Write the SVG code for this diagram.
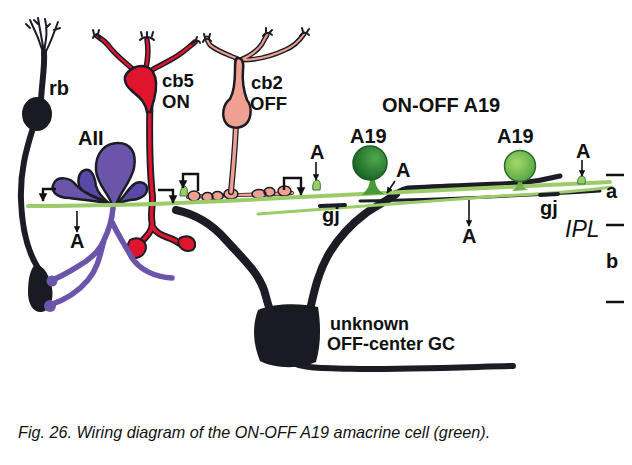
<svg xmlns="http://www.w3.org/2000/svg" width="632" height="465" viewBox="0 0 632 465">
<defs>
<marker id="ah" viewBox="0 0 10 10" refX="9" refY="5" markerWidth="4" markerHeight="4" orient="auto"><path d="M0,0 L10,5 L0,10 Z" fill="#111"/></marker>
<marker id="bh" viewBox="0 0 10 10" refX="9" refY="5" markerWidth="3.6" markerHeight="4.2" orient="auto"><path d="M0,0 L10,5 L0,10 Z" fill="#111"/></marker>
<radialGradient id="g1" cx="0.65" cy="0.35" r="0.8"><stop offset="0" stop-color="#4fa84a"/><stop offset="1" stop-color="#0f5a22"/></radialGradient>
<radialGradient id="g2" cx="0.4" cy="0.4" r="0.8"><stop offset="0" stop-color="#a8d86a"/><stop offset="1" stop-color="#3f9a3a"/></radialGradient>
<style>
.lbl{font-family:"Liberation Sans",Arial,sans-serif;font-weight:bold;font-size:20px;fill:#111}
.dk{fill:none;stroke:#1c1c26;stroke-linecap:round;stroke-linejoin:round}
.pu{fill:none;stroke:#6a55aa;stroke-linecap:round;stroke-linejoin:round}
.ar{fill:none;stroke:#111;stroke-width:1.6}
.br{fill:none;stroke:#111;stroke-width:2.4;stroke-linejoin:miter}
.gr{fill:none;stroke:#9ccc6a;stroke-linecap:round}
.tick{stroke:#111;stroke-width:2.5}
</style>
</defs>
<rect width="632" height="465" fill="#fff"/>

<g id="gc">
<path class="dk" stroke-width="8" d="M176,210 C195,214 212,224 226,240 C242,258 258,272 264,290 C267,300 268,305 270,310"/>
<path class="dk" stroke-width="8" d="M310,310 C314,292 318,272 330,252 C340,236 354,222 366,213 C378,205 388,200 396,194"/>
<path class="dk" stroke-width="5" d="M388,200 C392,196 398,190 408,188 C440,186 480,185 520,183 C540,181 552,178 560,176"/>
<path class="dk" stroke-width="3" d="M360,201 C420,200 500,197 600,191"/>
<path class="dk" stroke-width="6" d="M292,362 C300,368 320,368 360,369 C420,369 470,367 513,366"/>
<path fill="#1a1a22" d="M258,310 C275,303 300,303 318,307 C321,325 321,345 316,362 C300,369 275,369 260,361 C253,345 252,325 258,310 Z"/>
</g>

<g id="rb">
<path class="dk" stroke-width="2" d="M44,55 C40,42 35,30 30,20 M30,28 L26,24 M44,52 C42,40 40,30 38,18 M38,24 L34,20 M44,52 C46,40 48,30 45,19 M46,28 L50,24 M44,55 C50,45 53,35 58,22 M54,30 L60,28"/>
<path class="dk" stroke-width="6" d="M41,100 C42,82 45,66 44,52"/>
<ellipse cx="37" cy="114" rx="15" ry="17" fill="#1a1a22"/>
<path class="dk" stroke-width="6" d="M33,128 C26,150 20,172 21,200 C22,230 28,252 38,268"/>
<path fill="#1a1a22" d="M36,264 C44,266 50,276 52,288 C54,300 50,310 42,312 C33,313 28,304 28,292 C28,280 30,268 36,264 Z"/>
</g>

<g id="cb5">
<path class="dk" stroke-width="7" d="M150,100 C149,140 150,170 152,192 C154,202 150,212 152,222 C153,228 150,233 145,238 C140,243 134,248 134,255 M152,226 C158,236 166,236 174,240 C180,244 186,246 192,246"/>
<path fill="none" stroke="#e0142c" stroke-width="3.5" stroke-linecap="round" d="M150,100 C149,140 150,170 152,192 C154,202 150,212 152,222 C153,228 150,233 145,238 C140,243 134,248 134,255 M152,226 C158,236 166,236 174,240 C180,244 186,246 192,246"/>
<path fill="#e0142c" stroke="#1c1c26" stroke-width="2" d="M130,240 C138,236 146,240 146,248 C145,256 136,260 131,257 C127,253 126,245 130,240 Z M180,238 C188,234 196,238 195,246 C194,252 186,252 182,249 C178,246 177,241 180,238 Z"/>
<path class="dk" stroke-width="5.5" d="M136,72 C125,62 115,55 108,45 C104,40 100,38 97,36 M146,68 C148,58 149,50 147,40 M152,70 C162,64 172,60 180,54 C186,50 190,46 195,42"/>
<path fill="none" stroke="#e0142c" stroke-width="2.5" stroke-linecap="round" d="M136,72 C125,62 115,55 108,45 C104,40 100,38 97,36 M146,68 C148,58 149,50 147,40 M152,70 C162,64 172,60 180,54 C186,50 190,46 195,42"/>
<path class="dk" stroke-width="2" d="M93,38 C94,34 98,34 100,38 M94,34 L93,30 M98,34 L99,30 M140,40 C144,36 150,36 154,40 M142,36 L141,32 M147,36 L147,32 M152,36 L153,32 M192,44 C195,40 199,40 200,43 M196,40 L197,37"/>
<path fill="#e0142c" stroke="#1c1c26" stroke-width="2.5" d="M128,72 C136,64 148,64 153,72 C158,80 156,92 154,100 C152,106 151,108 151,112 L147,112 C145,100 137,96 131,90 C124,84 123,77 128,72 Z"/>
</g>

<g id="cb2">
<path fill="none" stroke="#1c1c26" stroke-width="4" stroke-linecap="round" d="M188,197 C220,195 260,195 292,193"/>
<path fill="none" stroke="#f0a090" stroke-width="2.4" stroke-linecap="round" d="M188,197 C220,195 260,195 292,193"/>
<path fill="#f0a090" stroke="#1c1c26" stroke-width="1.5" d="M188,196 a6,5 0 1,0 12,0 a6,5 0 1,0 -12,0 Z M202,197 a5.5,4.5 0 1,0 11,0 a5.5,4.5 0 1,0 -11,0 Z M212,196 a5.5,4.5 0 1,0 11,0 a5.5,4.5 0 1,0 -11,0 Z M224,194 a7,5 0 1,0 14,0 a7,5 0 1,0 -14,0 Z M252,194 a7,4.5 0 1,0 14,0 a7,4.5 0 1,0 -14,0 Z M264,192 a5.5,4.5 0 1,0 11,0 a5.5,4.5 0 1,0 -11,0 Z M278,191 a6.5,5 0 1,0 13,0 a6.5,5 0 1,0 -13,0 Z"/>
<path class="dk" stroke-width="6" d="M236,124 C235,150 233,170 231,192"/>
<path fill="none" stroke="#f0a090" stroke-width="3.5" stroke-linecap="round" d="M236,124 C235,150 233,170 231,192"/>
<path class="dk" stroke-width="5" d="M240,60 C230,55 218,52 210,45 C208,42 207,40 207,38 M240,60 C250,56 258,50 262,44 C264,40 265,38 267,35 M242,60 C258,60 272,56 285,50 C295,46 300,40 304,34"/>
<path fill="none" stroke="#f0a090" stroke-width="2.2" stroke-linecap="round" d="M240,60 C230,55 218,52 210,45 C208,42 207,40 207,38 M240,60 C250,56 258,50 262,44 C264,40 265,38 267,35 M242,60 C258,60 272,56 285,50 C295,46 300,40 304,34"/>
<path class="dk" stroke-width="2" d="M203,42 C204,38 209,38 211,41 M205,38 L204,34 M209,38 L210,34 M263,36 C265,32 270,32 272,35 M266,32 L266,28 M270,32 L272,30 M300,36 C302,32 307,32 309,35 M303,32 L302,28 M307,32 L309,29"/>
<path fill="#f0a090" stroke="#1c1c26" stroke-width="2.5" d="M238,58 C242,58 244,62 243,70 C242,82 244,92 247,100 C252,106 252,118 246,124 C240,129 230,129 226,123 C221,116 223,104 230,99 C234,92 235,80 235,70 C235,62 235,58 238,58 Z"/>
</g>

<g id="aii">
<path class="pu" stroke-width="5.5" d="M113,208 C112,220 110,228 104,240 C100,250 94,255 85,262 C75,268 65,275 52,280 M104,240 C100,255 98,268 88,280 C78,292 65,300 50,305 M112,222 C118,235 125,245 132,258 C140,270 155,277 172,278"/>
<circle cx="52" cy="281" r="5.5" fill="#6a55aa"/>
<circle cx="50" cy="306" r="6" fill="#6a55aa"/>
<path fill="#6a55aa" stroke="#1c1c26" stroke-width="2.5" d="M112,205 C110,195 97,185 96,170 C95,152 106,143 118,143 C130,143 137,152 134,168 C131,182 120,192 116,205 Z"/>
<path fill="#6a55aa" stroke="#1c1c26" stroke-width="2.5" d="M110,204 C95,200 80,200 70,198 C55,198 50,190 54,183 C58,176 70,177 76,185 C82,192 96,198 110,204 Z"/>
<path fill="#5a48a8" stroke="#1c1c26" stroke-width="2.5" d="M110,204 C100,198 88,195 82,190 C76,184 78,172 85,170 C92,168 95,178 96,186 C98,194 105,200 110,204 Z"/>
<path fill="#5a48a8" stroke="#1c1c26" stroke-width="2.5" d="M116,204 C122,200 126,192 132,186 C138,180 146,182 147,188 C148,196 138,200 130,200 C124,201 120,203 116,204 Z"/>
</g>

<g id="a19">
<path class="gr" stroke-width="4" d="M28,206 C100,206 200,203 300,197 C400,192 500,188 610,182"/>
<path class="gr" stroke-width="3" d="M258,214 C330,208 420,202 500,196 C560,193 590,190 612,187"/>
<path class="dk" stroke-width="4" d="M320,206 L345,205 M540,195 L558,194"/>
<path fill="#9ccc6a" stroke="#2c7a2e" stroke-width="1" d="M180,196 C180,190 182,186 184,186 C187,186 188,190 187,196 Z M313,190 C312,184 314,180 317,180 C320,180 321,184 320,190 Z M578,184 C577,179 579,176 582,176 C585,176 586,179 585,184 Z"/>
<path fill="#4a9a3a" d="M370,178 L375,178 C375,186 378,190 384,194 L362,195 C367,190 370,186 370,178 Z"/>
<circle cx="370" cy="163" r="17" fill="url(#g1)" stroke="#1f5a22" stroke-width="1.5"/>
<path fill="#6fb04a" d="M518,180 L522,180 C522,186 524,188 528,190 L512,191 C516,188 518,186 518,180 Z"/>
<circle cx="520" cy="166" r="15.5" fill="url(#g2)" stroke="#2a6a26" stroke-width="1.5"/>
</g>

<g id="connectors">
<path class="br" marker-end="url(#bh)" d="M56,189 H43 V201"/>
<path class="br" marker-end="url(#bh)" d="M158,190 H173 V203"/>
<path class="br" marker-end="url(#bh)" d="M198,191 V174 H183 V188"/>
<path class="br" marker-end="url(#bh)" d="M284,190 V178 H301 V195"/>
<path class="ar" marker-end="url(#ah)" d="M316,162 V180"/>
<path class="ar" marker-end="url(#ah)" d="M395,181 L387,193"/>
<path class="ar" marker-end="url(#ah)" d="M582,160 V176"/>
<path class="ar" marker-end="url(#ah)" d="M469,200 V226"/>
<path class="ar" marker-end="url(#ah)" d="M77,211 V232"/>
</g>

<g id="labels">
<text class="lbl" x="49" y="95">rb</text>
<text class="lbl" x="162" y="87" style="font-size:18.5px">cb5</text>
<text class="lbl" x="162" y="108" style="font-size:18.5px">ON</text>
<text class="lbl" x="251" y="89" style="font-size:18.5px">cb2</text>
<text class="lbl" x="250" y="110" style="font-size:18.5px">OFF</text>
<text class="lbl" x="78" y="145">AII</text>
<text class="lbl" x="382" y="112">ON-OFF A19</text>
<text class="lbl" x="350" y="143">A19</text>
<text class="lbl" x="497" y="143">A19</text>
<text class="lbl" x="310" y="159">A</text>
<text class="lbl" x="396" y="177">A</text>
<text class="lbl" x="576" y="158">A</text>
<text class="lbl" x="462" y="243">A</text>
<text class="lbl" x="70" y="248">A</text>
<text class="lbl" x="322" y="222">gj</text>
<text class="lbl" x="540" y="215">gj</text>
<text class="lbl" x="606" y="198">a</text>
<text class="lbl" x="606" y="268">b</text>
<text x="565" y="237" style="font-family:'Liberation Sans',Arial,sans-serif;font-style:italic;font-size:23px;fill:#111">IPL</text>
<text class="lbl" x="330" y="330" style="font-size:18px">unknown</text>
<text class="lbl" x="327" y="350" style="font-size:18px">OFF-center GC</text>
<line class="tick" x1="606" y1="175" x2="624" y2="175"/>
<line class="tick" x1="606" y1="225" x2="624" y2="225"/>
<line class="tick" x1="606" y1="302" x2="624" y2="302"/>
<text x="18" y="438" style="font-family:'Liberation Sans',Arial,sans-serif;font-style:italic;font-size:16.2px;fill:#111">Fig. 26. Wiring diagram of the ON-OFF A19 amacrine cell (green).</text>
</g>
</svg>
